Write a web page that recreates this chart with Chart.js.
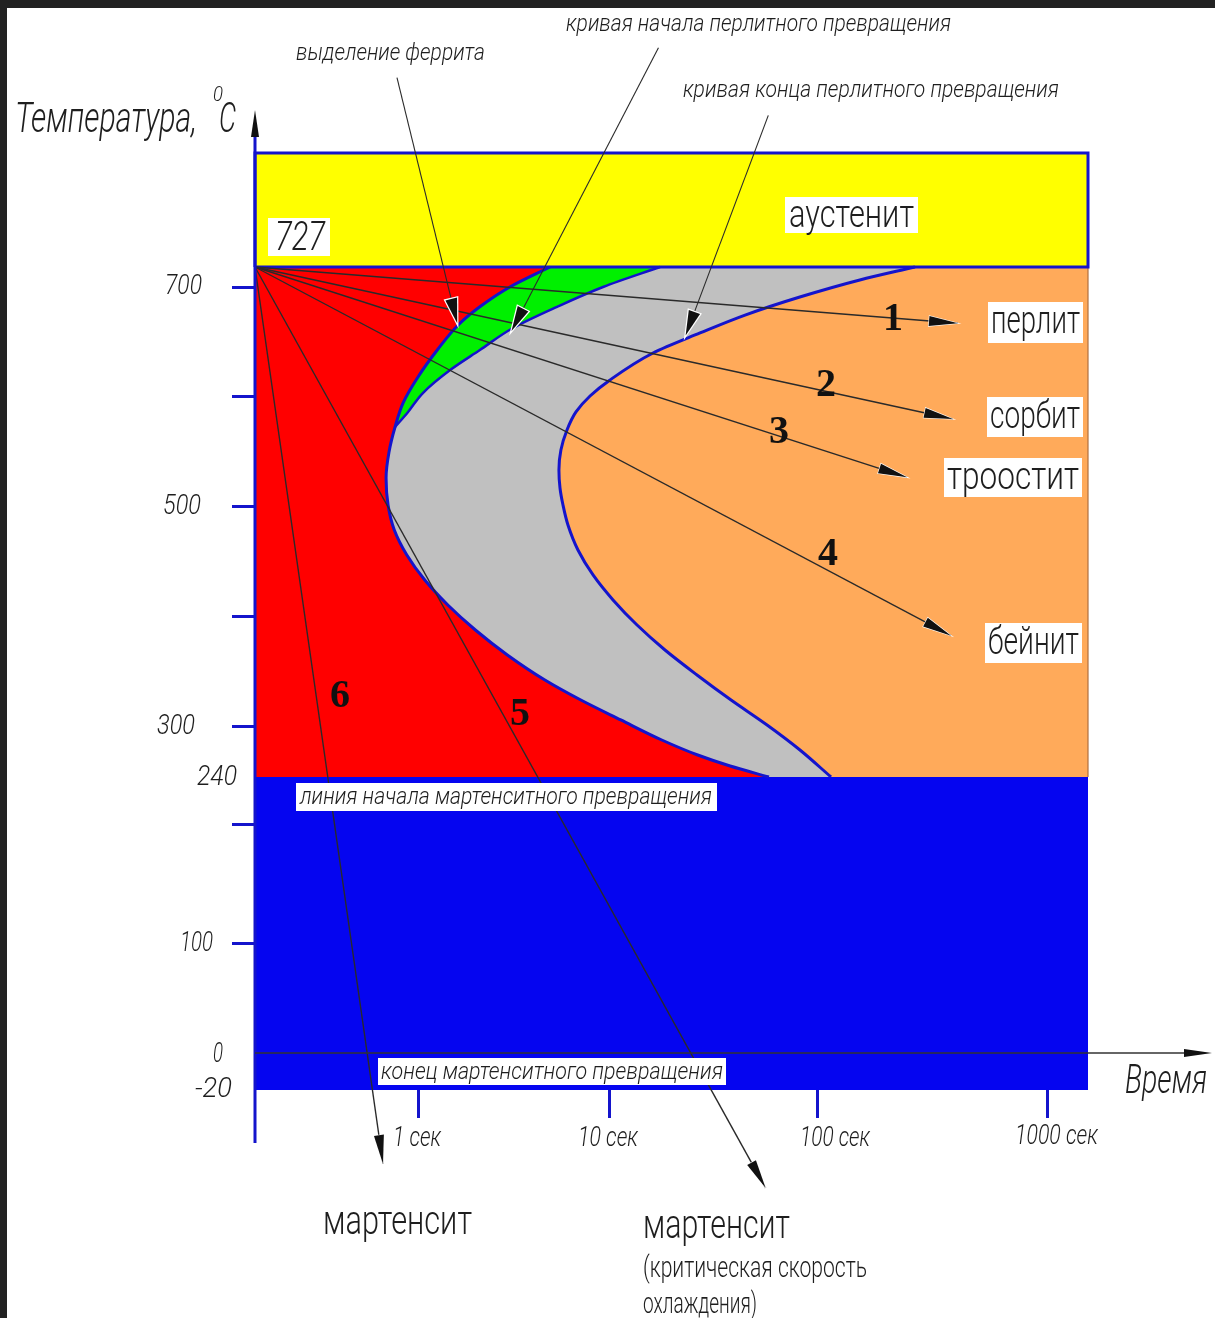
<!DOCTYPE html>
<html><head><meta charset="utf-8">
<script src="https://cdn.jsdelivr.net/npm/chart.js@4.4.1/dist/chart.umd.min.js"></script>
<style>html,body{margin:0;padding:0;background:#fff;overflow:hidden}canvas{display:block}</style>
</head><body><canvas id="c" width="1215" height="1318"></canvas>
<script>
// ---------------- DATA ----------------
const timeTicks = [1, 10, 100, 1000];
const timeTickLabels = ['1 сек', '10 сек', '100 сек', '1000 сек'];
const tempTickMarks = [700, 600, 500, 400, 300, 200, 100];
const tempLabelValues = [700, 500, 300, 240, 100, 0, -20];
const tempLabelTexts = ['700', '500', '300', '240', '100', '0', '-20'];

const A1 = 727;      // austenite boundary
const MS = 240;      // martensite start
const MF = -20;      // martensite finish
const T_TOP = 830;   // top of diagram
const T_MIN = 0.1;   // time axis start, s
const T_MAX = 1500;  // time axis end, s

// outer C-curve: ferrite precipitation start (upper) and transformation start (lower)
const ferriteStartTime = [4.87, 3.01, 2.10, 1.62, 1.26, 1.0, 0.809, 0.723, 0.664, 0.637, 0.655, 0.7155, 0.854, 1.085, 1.43, 1.99, 2.92, 4.58, 7.05, 11.27, 17.74, 26.4, 37.8, 58.1];
const ferriteStartTemp = [727, 700, 682, 665.5, 642.7, 618.2, 594.5, 572.7, 550, 526.4, 501.8, 479.1, 456.4, 433.6, 410.9, 388.2, 365.5, 342.7, 324.5, 306.4, 284.4, 266.4, 253.2, 240];

// start of pearlite transformation (merges with the outer curve)
const pearliteStartTime = [17.4, 9.2, 5.30, 3.12, 2.10, 1.47, 1.06, 0.869, 0.723];
const pearliteStartTemp = [727, 700, 682, 662.7, 642.7, 624.5, 603.6, 586.4, 572.7];

// end of pearlite transformation
const pearliteEndTime = [264, 152, 81.8, 44.6, 27.1, 16.1, 10.0, 7.87, 6.65, 5.97, 5.55, 5.42, 5.49, 5.69, 6.04, 6.81, 8.16, 10.34, 13.49, 18.38, 26.2, 38.2, 56.9, 81.9, 113.9];
const pearliteEndTemp = [727, 709.5, 690.9, 674.5, 658.2, 640, 615.5, 600.9, 586.4, 570, 551.8, 533.6, 517.3, 501.8, 483.6, 460.9, 438.2, 415.5, 392.7, 370, 347.3, 324.5, 301.8, 272.4, 240];

// cooling curves 1..6 (start at A1, t = T_MIN)
const coolingNames = ['1', '2', '3', '4', '5', '6'];
const coolingEndTime = [406, 386, 244, 379, 56, 0.61];
const coolingEndTemp = [667, 580, 527, 383, -73, -60];

// leader arrows from the captions to the curves
const leaderFromTime = [0.743, 17.1, 57.7];
const leaderFromTemp = [898, 925, 864];
const leaderToTime = [1.6, 3.07, 23.1];
const leaderToTemp = [667, 660, 656];

// ---------------- SCALE ----------------
const KNOTS = {
  x: {log: true, pts: [[0.1, 0], [1, 0.19568], [10, 0.42617], [100, 0.67587], [1000, 0.95198], [1500, 1]]},
  y: {log: false, pts: [[-20, 0], [0, 0.03949], [100, 0.15582], [240, 0.33404], [300, 0.38741], [500, 0.62220], [700, 0.85699], [727, 0.87834], [830, 1]]}
};
class PiecewiseScale extends Chart.LinearScale {
  static id = 'piecewise';
  static defaults = {};
  _k() { return KNOTS[this.axis]; }
  toDec(v) {
    const k = this._k(); const f = k.log ? (a => Math.log10(a)) : (a => a);
    const p = k.pts; const t = f(v);
    let i = 0;
    while (i < p.length - 2 && t > f(p[i + 1][0])) i++;
    const a = f(p[i][0]), b = f(p[i + 1][0]);
    return p[i][1] + (t - a) / (b - a) * (p[i + 1][1] - p[i][1]);
  }
  getPixelForValue(v) {
    if (v === null || v === undefined || isNaN(v)) return NaN;
    return this.getPixelForDecimal(this.toDec(v));
  }
  getValueForPixel(px) {
    const d = this.getDecimalForPixel(px);
    const k = this._k(); const f = k.log ? (a => Math.log10(a)) : (a => a);
    const p = k.pts;
    let i = 0;
    while (i < p.length - 2 && d > p[i + 1][1]) i++;
    const a = f(p[i][0]), b = f(p[i + 1][0]);
    const t = a + (d - p[i][1]) / (p[i + 1][1] - p[i][1]) * (b - a);
    return k.log ? Math.pow(10, t) : t;
  }
}
Chart.register(PiecewiseScale);

// ---------------- COLOURS ----------------
const BLUE = '#0505F0';
const CURVE = '#1414CC';
const INK = '#2a2a2a';

const pts = (xs, ys) => xs.map((x, i) => ({x, y: ys[i]}));

const datasets = [];
const band = (y1, y2, color, order) => ({indexAxis: 'y', data: [{x: T_MIN, y: y1}, {x: T_MIN, y: y2}], fill: {value: T_MAX},
  backgroundColor: color, borderWidth: 0, pointRadius: 0, order});
const curve = (xs, ys, fill, color, width, order) => ({indexAxis: 'y', data: pts(xs, ys), fill, backgroundColor: color,
  borderColor: CURVE, borderWidth: width, cubicInterpolationMode: 'monotone', pointRadius: 0, order});
datasets.push(band(A1, MS, '#FF0000', 100));
const outerIdx = datasets.length;
datasets.push(curve(ferriteStartTime, ferriteStartTemp, {value: T_MAX}, '#C0C0C0', 3, 90));
datasets.push(curve(pearliteStartTime, pearliteStartTemp, outerIdx, '#00F000', 2.5, 80));
datasets.push(curve(pearliteEndTime, pearliteEndTemp, {value: T_MAX}, '#FFAA5A', 3, 70));
datasets.push(band(T_TOP, A1, '#FFFF00', 60));
datasets.push(band(MS, MF, BLUE, 60));
datasets.push({data: [{x: T_MAX, y: A1}, {x: T_MAX, y: MS}], fill: false, borderColor: '#B07040', borderWidth: 1.2,
  pointRadius: 0, clip: false, order: 55});
datasets.push({data: [{x: T_MIN, y: A1}, {x: T_MAX, y: A1}, {x: T_MAX, y: T_TOP}, {x: T_MIN, y: T_TOP}, {x: T_MIN, y: A1}],
  fill: false, borderColor: CURVE, borderWidth: 3, pointRadius: 0, clip: false, order: 50});
const coolIdx = [];
coolingNames.forEach((n, i) => {
  coolIdx.push(datasets.length);
  datasets.push({label: n, data: [{x: T_MIN, y: A1}, {x: coolingEndTime[i], y: coolingEndTemp[i]}], fill: false,
    borderColor: INK, borderWidth: 1.4, pointRadius: 0, clip: false, order: 5});
});
const leadIdx = [];
leaderFromTime.forEach((t, i) => {
  leadIdx.push(datasets.length);
  datasets.push({data: [{x: t, y: leaderFromTemp[i]}, {x: leaderToTime[i], y: leaderToTemp[i]}], fill: false,
    borderColor: INK, borderWidth: 1.1, pointRadius: 0, clip: false, order: 5});
});

// ---------------- DRAW HELPERS ----------------
const FONT = '"Roboto", "DejaVu Sans", sans-serif';
function txt(ctx, s, x, y, w, size, italic, color) {
  ctx.save();
  ctx.font = (italic ? 'italic ' : '') + '300 ' + size + 'px ' + FONT;
  ctx.fillStyle = color || '#1e1e1e';
  ctx.textBaseline = 'alphabetic';
  ctx.textAlign = 'left';
  const m = ctx.measureText(s).width;
  ctx.translate(x, y);
  ctx.scale(w / m, 1);
  ctx.fillText(s, 0, 0);
  ctx.restore();
}
function box(ctx, x, y, w, h) { ctx.fillStyle = '#fff'; ctx.fillRect(x, y, w, h); }
function head(ctx, tx, ty, ang, len, hw, outline) {
  ctx.save();
  ctx.translate(tx, ty); ctx.rotate(ang);
  ctx.beginPath(); ctx.moveTo(0, 0); ctx.lineTo(-len, -hw); ctx.lineTo(-len, hw); ctx.closePath();
  if (outline) { ctx.lineWidth = outline; ctx.strokeStyle = '#fff'; ctx.stroke(); }
  ctx.fillStyle = '#111'; ctx.fill();
  ctx.restore();
}

const bgPlugin = {
  id: 'bg',
  beforeDraw(chart) {
    const ctx = chart.ctx;
    ctx.save();
    ctx.fillStyle = '#fff'; ctx.fillRect(0, 0, chart.width, chart.height);
    ctx.fillStyle = '#222222'; ctx.fillRect(0, 0, chart.width, 8); ctx.fillRect(0, 0, 7, chart.height);
    ctx.restore();
  }
};

const decoPlugin = {
  id: 'deco',
  afterDraw(chart) {
    const ctx = chart.ctx, ca = chart.chartArea, xs = chart.scales.x, ys = chart.scales.y;
    ctx.save();
    // temperature axis
    ctx.strokeStyle = CURVE; ctx.lineWidth = 3;
    ctx.beginPath(); ctx.moveTo(ca.left, 137); ctx.lineTo(ca.left, 1143); ctx.stroke();
    head(ctx, ca.left, 110, -Math.PI / 2, 27, 4, 0);
    // time axis at 0 °C
    const y0 = ys.getPixelForValue(0);
    ctx.strokeStyle = '#333'; ctx.lineWidth = 1.5;
    ctx.beginPath(); ctx.moveTo(ca.left, y0); ctx.lineTo(1190, y0); ctx.stroke();
    head(ctx, 1212, y0, 0, 28, 4, 0);

    // arrowheads on cooling curves and leaders
    coolIdx.forEach(i => {
      const d = chart.getDatasetMeta(i).data; const a = d[0], b = d[d.length - 1];
      head(ctx, b.x, b.y, Math.atan2(b.y - a.y, b.x - a.x), 29, 5, 1.2);
    });
    leadIdx.forEach(i => {
      const d = chart.getDatasetMeta(i).data; const a = d[0], b = d[d.length - 1];
      head(ctx, b.x, b.y, Math.atan2(b.y - a.y, b.x - a.x), 25, 6, 2.5);
    });

    // axis tick labels
    const yLabelPos = {'700': [165, 37], '500': [163, 38], '300': [157, 38], '240': [197, 40], '100': [180, 33], '0': [213, 10], '-20': [195, 37]};
    tempLabelValues.forEach((v, i) => {
      const p = yLabelPos[tempLabelTexts[i]];
      txt(ctx, tempLabelTexts[i], p[0], ys.getPixelForValue(v) + (v === 240 ? 8 : v === -20 ? 7 : v === 0 ? 9 : 7), p[1], 28, true);
    });
    const xLabelLeft = [393, 578, 800, 1015];
    const xLabelW = [48, 60, 70, 83];
    timeTicks.forEach((v, i) => {
      txt(ctx, timeTickLabels[i], xLabelLeft[i], i === 3 ? 1144 : 1146, xLabelW[i], 28, true);
    });

    // axis titles
    txt(ctx, 'Температура,', 15, 132, 182, 42, true);
    txt(ctx, '0', 213, 101, 10, 20, true);
    txt(ctx, 'C', 219, 132, 17, 42, true);
    txt(ctx, 'Время', 1125, 1093, 82, 40, true);

    // captions
    txt(ctx, 'выделение феррита', 296, 60, 189, 24, true);
    txt(ctx, 'кривая начала перлитного превращения', 566, 31, 385, 24, true);
    txt(ctx, 'кривая конца перлитного превращения', 683, 97, 376, 24, true);

    box(ctx, 785, 197, 133, 36); txt(ctx, 'аустенит', 789, 227, 125, 38, false);
    box(ctx, 268, 218, 62, 38); txt(ctx, '727', 275, 250, 50, 40, true);
    box(ctx, 988, 302, 95, 41); txt(ctx, 'перлит', 991, 333, 89, 38, false);
    box(ctx, 987, 397, 96, 40); txt(ctx, 'сорбит', 990, 428, 90, 38, false);
    box(ctx, 944, 458, 138, 39); txt(ctx, 'троостит', 947, 489, 132, 38, false);
    box(ctx, 985, 623, 97, 40); txt(ctx, 'бейнит', 988, 654, 91, 38, false);
    box(ctx, 296, 783, 421, 28); txt(ctx, 'линия начала мартенситного превращения', 300, 804, 412, 24, true);
    box(ctx, 378, 1058, 348, 27); txt(ctx, 'конец мартенситного превращения', 381, 1079, 342, 24, true);

    txt(ctx, 'мартенсит', 323, 1234, 149, 40, false);
    txt(ctx, 'мартенсит', 643, 1238, 147, 40, false);
    txt(ctx, '(критическая скорость', 643, 1277, 224, 30, false);
    txt(ctx, 'охлаждения)', 643, 1313, 114, 30, false);

    // curve numbers
    const numPos = [[893, 330], [826, 396], [779, 443], [828, 565], [520, 725], [340, 707]];
    ctx.font = 'bold 40px "Liberation Serif", "Times New Roman", serif';
    ctx.fillStyle = '#111'; ctx.textAlign = 'center'; ctx.textBaseline = 'alphabetic';
    coolingNames.forEach((n, i) => ctx.fillText(n, numPos[i][0], numPos[i][1]));
    ctx.restore();
  }
};

new Chart(document.getElementById('c'), {
  type: 'line',
  data: {datasets},
  options: {
    responsive: false,
    animation: false,
    events: [],
    layout: {padding: {left: 232, right: 127, top: 153, bottom: 200}},
    plugins: {legend: {display: false}, tooltip: {enabled: false}, filler: {drawTime: 'beforeDatasetsDraw'}},
    scales: {
      x: {type: 'piecewise', position: 'bottom', min: T_MIN, max: T_MAX,
        afterBuildTicks: s => { s.ticks = timeTicks.map(v => ({value: v})); },
        afterFit: s => { s.height = 28; },
        ticks: {display: false},
        grid: {display: true, drawOnChartArea: false, drawTicks: true, tickLength: 28, tickWidth: 3, tickColor: CURVE},
        border: {display: false}},
      y: {type: 'piecewise', position: 'left', min: MF, max: T_TOP,
        afterBuildTicks: s => { s.ticks = tempTickMarks.map(v => ({value: v})); },
        afterFit: s => { s.width = 23; },
        ticks: {display: false},
        grid: {display: true, drawOnChartArea: false, drawTicks: true, tickLength: 23, tickWidth: 3, tickColor: CURVE},
        border: {display: false}}
    }
  },
  plugins: [bgPlugin, decoPlugin]
});
</script></body></html>
